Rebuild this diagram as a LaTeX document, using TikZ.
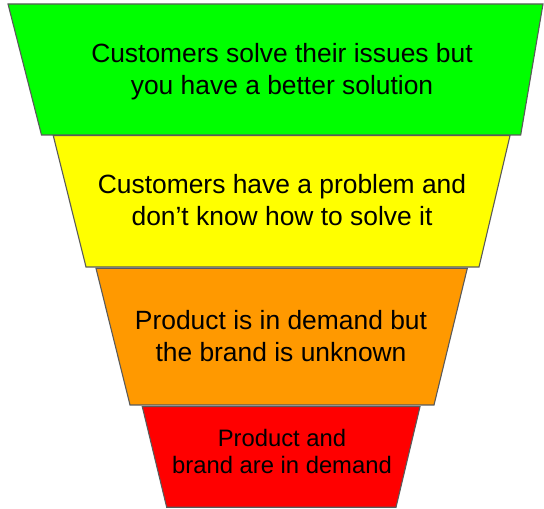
\documentclass[tikz,border=0pt]{standalone}
\usepackage{fontspec}
\setmainfont{Liberation Sans}
\begin{document}
\begin{tikzpicture}[x=1pt,y=1pt,
  layer/.style={draw=stroke, line width=1.1pt, line join=miter},
  label/.style={align=center, inner sep=0pt, anchor=base, font=\fontsize{26.4}{32.5}\selectfont},
  smalllabel/.style={label, font=\fontsize{23.8}{27}\selectfont}]
\definecolor{stroke}{HTML}{5A5A5A}
\definecolor{fgreen}{HTML}{00FF00}
\definecolor{fyellow}{HTML}{FFFF00}
\definecolor{forange}{HTML}{FF9900}
\definecolor{fred}{HTML}{FF0000}
\useasboundingbox (0,0) rectangle (544,509);

% funnel layers, widest at the top
\draw[layer, fill=fgreen]  (8,505) -- (543,505) -- (520.7,374) -- (41.5,374) -- cycle;
\draw[layer, fill=fyellow] (53.3,373.3) -- (510,373.3) -- (479,242) -- (86,242) -- cycle;
\draw[layer, fill=forange] (96,240.7) -- (467.3,240.7) -- (434,104) -- (130,104) -- cycle;
\draw[layer, fill=fred]    (142.3,102.3) -- (420,102.3) -- (396,1.7) -- (166.7,1.7) -- cycle;

% captions (anchored at the baseline of the last line)
\node[label] (t1) at (282,414) {Customers solve their issues but\\you have a better solution};
\node[label] (t2) at (282,283) {Customers have a problem and\\don’t know how to solve it};
\node[label] (t3) at (281,147) {Product is in demand but\\the brand is unknown};
\node[smalllabel] (t4) at (282,35) {Product and\\brand are in demand};
\end{tikzpicture}
\end{document}
